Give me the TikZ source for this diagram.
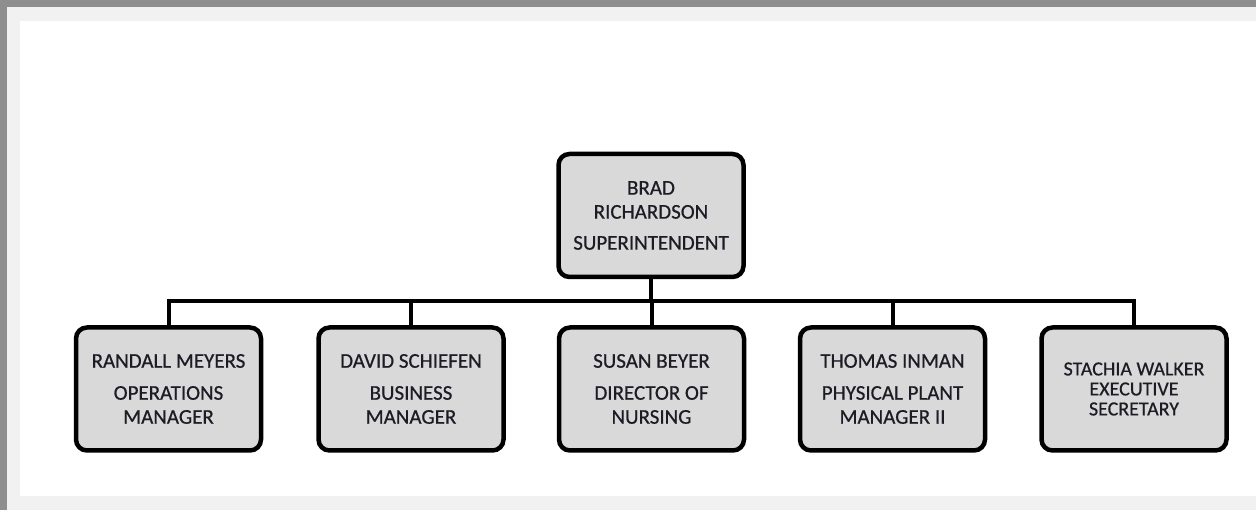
\documentclass[tikz,border=0pt]{standalone}
\usepackage{fontspec}
\setmainfont{Carlito}
\newfontfamily\orgfont{Carlito}[FakeBold=0.6]
\usepackage{tikz}
\usetikzlibrary{positioning}
\usepackage{xcolor}
\definecolor{boxgray}{HTML}{D9D9D9}
\definecolor{framegray}{HTML}{F1F1F1}
\definecolor{backgray}{HTML}{8E8E8E}
\definecolor{inkdark}{HTML}{1C1C24}

\begin{document}
\begin{tikzpicture}[x=1pt,y=-1pt,
  person/.style={draw,line width=4.5pt,rounded corners=11pt,fill=boxgray,
    minimum width=185pt,minimum height=123pt,inner sep=0pt,align=center,
    text=inkdark,font=\orgfont\fontsize{21}{24}\selectfont},
  link/.style={line width=4pt}]
\useasboundingbox (0,0) rectangle (1256,510);
\fill[backgray] (0,0) rectangle (1256,510);
\fill[framegray] (7,7) rectangle (1256,510);
\fill[white] (20,21) rectangle (1256,496);

\node[person] (boss) at (651,215.5) {BRAD\\RICHARDSON\\[7pt]SUPERINTENDENT};

\node[person] (meyers) at (168.5,389) {RANDALL MEYERS\\[8pt]OPERATIONS\\MANAGER};
\node[person] (schiefen) at (411,389) {DAVID SCHIEFEN\\[8pt]BUSINESS\\MANAGER};
\node[person] (beyer) at (651.5,389) {SUSAN BEYER\\[8pt]DIRECTOR OF\\NURSING};
\node[person] (inman) at (892.5,389) {THOMAS INMAN\\[8pt]PHYSICAL PLANT\\MANAGER II};
\node[person,font=\orgfont\fontsize{20}{20}\selectfont] (walker) at (1134,389) {STACHIA WALKER\\EXECUTIVE\\SECRETARY};

\foreach \n in {meyers,schiefen,beyer,inman,walker}
  \draw[link] (boss.south) -- ++(0,22) -| (\n.north);

\end{tikzpicture}
\end{document}
